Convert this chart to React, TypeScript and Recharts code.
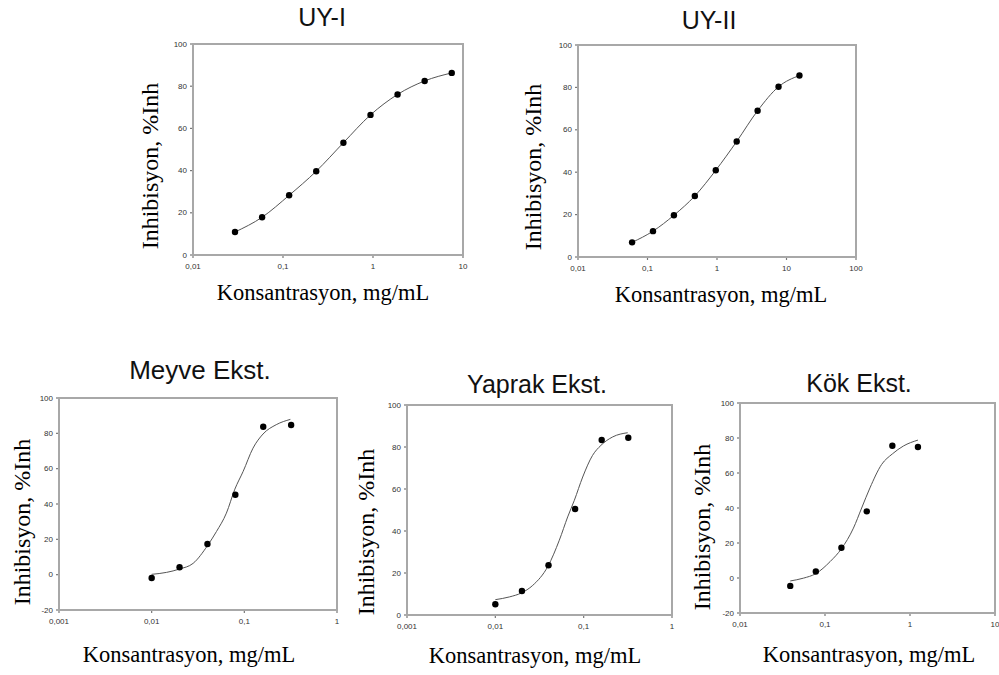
import { ComposedChart, Line, Scatter, XAxis, YAxis } from 'recharts'

// values (concentration in mg/mL, inhibition %)
const uy1Conc = [0.0293, 0.0586, 0.117, 0.234, 0.469, 0.938, 1.875, 3.75, 7.5]
const uy1Inh = [10.9, 17.9, 28.3, 39.7, 53.2, 66.4, 76.1, 82.5, 86.3]

const uy2Conc = [0.06, 0.12, 0.24, 0.48, 0.96, 1.92, 3.84, 7.68, 15.36]
const uy2Inh = [6.9, 12.2, 19.7, 28.8, 40.9, 54.5, 69.0, 80.3, 85.6]

const meyveConc = [0.01, 0.02, 0.04, 0.08, 0.16, 0.32]
const meyveInh = [-1.9, 4.2, 17.4, 45.2, 83.7, 84.7]
const meyveFitConc = [0.01, 0.0145, 0.02, 0.028, 0.04, 0.05, 0.064, 0.079, 0.097, 0.124, 0.159, 0.221, 0.314]
const meyveFitInh = [0.2, 1.3, 3.2, 6.4, 16.4, 24.4, 34.8, 48.4, 58.4, 71.6, 79.6, 84.9, 87.9]

const yaprakConc = [0.01, 0.02, 0.04, 0.08, 0.16, 0.32]
const yaprakInh = [5.1, 11.4, 23.7, 50.5, 83.3, 84.4]
const yaprakFitConc = [0.01, 0.0144, 0.0197, 0.0265, 0.0395, 0.053, 0.0659, 0.0784, 0.0975, 0.126, 0.157, 0.213, 0.315]
const yaprakFitInh = [7.3, 8.6, 10.5, 14.1, 23.3, 35.6, 46.7, 54.6, 65.7, 76, 80.8, 84.8, 86.8]

const kokConc = [0.039, 0.078, 0.156, 0.31, 0.62, 1.24]
const kokInh = [-4.5, 3.7, 17.3, 38.1, 75.6, 74.9]
const kokFitConc = [0.039, 0.0556, 0.078, 0.115, 0.156, 0.216, 0.27, 0.338, 0.464, 0.62, 0.835, 1.24]
const kokFitInh = [-1.7, -0.1, 2.5, 9.4, 16.7, 28.5, 40, 51.5, 64.9, 70.9, 75.4, 78.8]

const uy1XTicks = [0.01, 0.1, 1, 10]
const uy2XTicks = [0.01, 0.1, 1, 10, 100]
const lowXTicks = [0.001, 0.01, 0.1, 1]
const kokXTicks = [0.01, 0.1, 1, 10]
const yTicks = [0, 20, 40, 60, 80, 100]
const yTicksNeg = [-20, 0, 20, 40, 60, 80, 100]

const titles = ['UY-I', 'UY-II', 'Meyve Ekst.', 'Yaprak Ekst.', 'Kök Ekst.']
const xLabel = 'Konsantrasyon, mg/mL'
const yLabel = 'Inhibisyon, %Inh'

const SANS = 'Arial, "Liberation Sans", sans-serif'
const SERIF = '"Times New Roman", "Liberation Serif", serif'

const zip = (xs: number[], ys: number[]) => xs.map((x, i) => ({ x, y: ys[i] }))
const fmt = (v: number) => String(v).replace('.', ',')

// layout of each panel: plot box [x0,y0,x1,y1] in page px, text anchors
const panels = [
  { title: titles[0], box: [193, 44, 463, 255], xTicks: uy1XTicks, yTicks, points: zip(uy1Conc, uy1Inh), fit: zip(uy1Conc, uy1Inh),
    t: [322, 26, 25], yl: [150, 166], xl: [323, 300], padR: 14 },
  { title: titles[1], box: [578, 45, 856, 257], xTicks: uy2XTicks, yTicks, points: zip(uy2Conc, uy2Inh), fit: zip(uy2Conc, uy2Inh),
    t: [709, 29, 25], yl: [533, 167], xl: [721, 302], padR: 14 },
  { title: titles[2], box: [59, 398, 337, 610], xTicks: lowXTicks, yTicks: yTicksNeg, points: zip(meyveConc, meyveInh), fit: zip(meyveFitConc, meyveFitInh),
    t: [200, 379, 26], yl: [22, 522], xl: [189, 662], padR: 10 },
  { title: titles[3], box: [407, 405, 672, 615], xTicks: lowXTicks, yTicks, points: zip(yaprakConc, yaprakInh), fit: zip(yaprakFitConc, yaprakFitInh),
    t: [537, 393, 25], yl: [366, 532], xl: [535, 663], padR: 10 },
  { title: titles[4], box: [740, 403, 995, 613], xTicks: kokXTicks, yTicks: yTicksNeg, points: zip(kokConc, kokInh), fit: zip(kokFitConc, kokFitInh),
    t: [859, 392, 25], yl: [702, 527], xl: [869, 662], padR: 4 },
]

const Dot = (p: any) => <circle cx={p.cx} cy={p.cy} r={3.2} fill="#000" />

const PAD_L = 45, PAD_T = 8, PAD_B = 24
const TICK_LEN = 3, X_GAP = 5, Y_GAP = 3
const FRAME = '#a8a8a8'
const TICK_COLOR = '#777'

// tick mark + label drawn together
const XTick = ({ x, y, payload }: any) => (
  <g>
    <line x1={x} x2={x} y1={y - X_GAP - TICK_LEN} y2={y - X_GAP} stroke={TICK_COLOR} strokeWidth={1.2} />
    <text x={x} y={y} dy="0.71em" textAnchor="middle" fontSize={8} fontFamily={SANS} fill="#333">{fmt(payload.value)}</text>
  </g>
)
const YTick = ({ x, y, payload }: any) => (
  <g>
    <line x1={x + Y_GAP} x2={x + Y_GAP + TICK_LEN} y1={y} y2={y} stroke={TICK_COLOR} strokeWidth={1.2} />
    <text x={x} y={y} dy="0.32em" textAnchor="end" fontSize={8} fontFamily={SANS} fill="#333">{payload.value}</text>
  </g>
)

function Panel({ p }: { p: any }) {
  const [x0, y0, x1, y1] = p.box
  const w = x1 - x0, h = y1 - y0
  const xDom = [p.xTicks[0], p.xTicks[p.xTicks.length - 1]]
  const yDom = [p.yTicks[0], p.yTicks[p.yTicks.length - 1]]
  return (
    <div style={{ position: 'absolute', left: x0 - PAD_L, top: y0 - PAD_T }}>
      <ComposedChart width={w + PAD_L + p.padR} height={h + PAD_T + PAD_B} margin={{ top: PAD_T, right: p.padR, left: 0, bottom: 0 }}>
        <XAxis type="number" dataKey="x" scale="log" domain={xDom} ticks={p.xTicks} allowDataOverflow interval={0}
          tick={<XTick />} tickSize={TICK_LEN} tickMargin={X_GAP} height={PAD_B} axisLine={false} tickLine={false} />
        <YAxis type="number" dataKey="y" domain={yDom} ticks={p.yTicks} allowDataOverflow interval={0}
          tick={<YTick />} tickSize={TICK_LEN} tickMargin={Y_GAP} width={PAD_L} axisLine={false} tickLine={false} />
        <Line data={p.fit} dataKey="y" type="monotone" stroke="#555" strokeWidth={1} dot={false} activeDot={false} isAnimationActive={false} />
        <Scatter data={p.points} dataKey="y" shape={Dot} isAnimationActive={false} />
      </ComposedChart>
      {/* plot frame, 2px light grey like the scanned original */}
      <div style={{ position: 'absolute', left: PAD_L - 1, top: PAD_T - 1, width: w + 2, height: h + 2, border: `2px solid ${FRAME}`,
        boxSizing: 'border-box', pointerEvents: 'none' }} />
    </div>
  )
}

export default function App() {
  return (
    <div style={{ position: 'absolute', left: 0, top: 0, width: 999, height: 675, background: '#fff', overflow: 'hidden' }}>
      {panels.map((p, i) => <Panel key={i} p={p} />)}
      <svg width={999} height={675} style={{ position: 'absolute', left: 0, top: 0, pointerEvents: 'none' }}>
        {panels.map((p, i) => (
          <g key={i}>
            <text x={p.t[0]} y={p.t[1]} textAnchor="middle" fontFamily={SANS} fontSize={p.t[2]} fill="#111">{p.title}</text>
            <text x={p.xl[0]} y={p.xl[1]} textAnchor="middle" fontFamily={SERIF} fontSize={22.5} fill="#000">{xLabel}</text>
            <text x={p.yl[0]} y={p.yl[1]} textAnchor="middle" dominantBaseline="central" fontFamily={SERIF} fontSize={24}
              fill="#000" transform={`rotate(-90 ${p.yl[0]} ${p.yl[1]})`}>{yLabel}</text>
          </g>
        ))}
      </svg>
    </div>
  )
}
